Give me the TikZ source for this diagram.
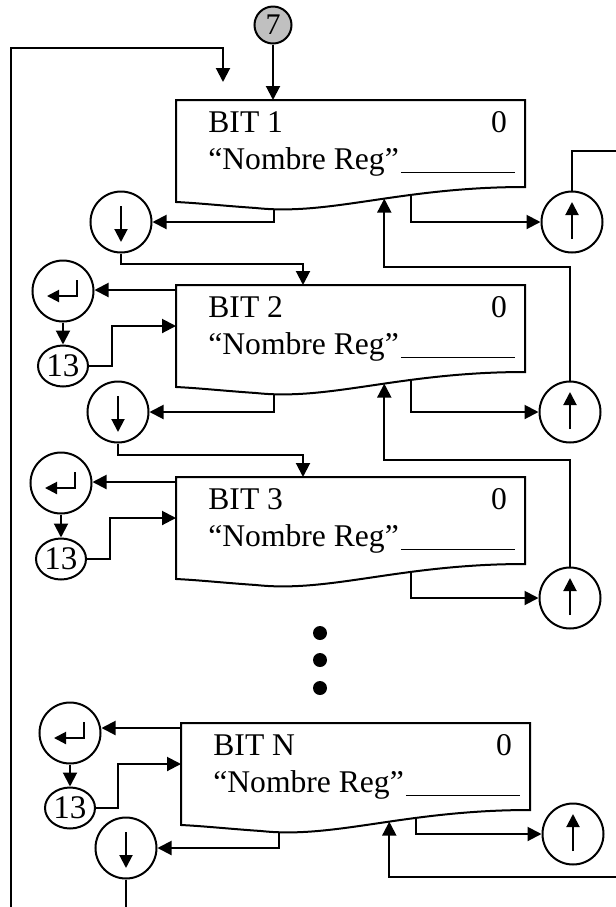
\documentclass[tikz,border=0pt]{standalone}
\usepackage{fontspec}
\setmainfont{Liberation Serif}
\usetikzlibrary{arrows.meta,calc,shapes.geometric}
\definecolor{nodegray}{RGB}{192,192,192}

% one register box: name, left, top, label
\newcommand{\bitbox}[4]{%
  \begin{scope}[shift={(#2,#3)}]
    \draw[ln] (0,0) coordinate (#1-nw) -- (349,0) -- (349,87)
      .. controls (224,87) and (154,116) .. (80,108)
      coordinate[pos=0.35] (#1-up) coordinate[pos=0.45] (#1-in) coordinate[pos=0.92] (#1-out)
      .. controls (50,106) and (22,103) .. (0,102) -- cycle;
    \coordinate (#1-top) at (127,0);
    \coordinate (#1-ent) at (0,5);
    \coordinate (#1-cin) at (0,41);
    \node[txt,anchor=base west] (#1-bit) at (32,32) {#4};
    \node[txt,anchor=base] (#1-val) at (323,32) {0};
    \node[txt,anchor=base west] (#1-reg) at (32,69) {“Nombre Reg”\hspace{1pt}\rule[-2pt]{57pt}{0.5pt}};
  \end{scope}}

\begin{document}
\begin{tikzpicture}[x=0.5pt,y=-0.5pt,
    ln/.style={line width=1pt},
    flow/.style={ln,-{Triangle[length=7pt,width=7pt]}},
    small/.style={ln,-{Triangle[length=6.5pt,width=6.5pt]}},
    txt/.style={inner sep=0pt,font=\fontsize{15.8pt}{18pt}\selectfont},
    kcirc/.style={ln,draw,circle,minimum size=30.5pt,inner sep=0pt},
    gocirc/.style={ln,draw,ellipse,minimum width=25pt,minimum height=20.5pt,inner sep=0pt,font=\fontsize{16.5pt}{18pt}\selectfont},
    linkcirc/.style={ln,draw,circle,fill=nodegray,minimum size=18.5pt,inner sep=0pt,font=\fontsize{15pt}{17pt}\selectfont}]
  \useasboundingbox (0,0) rectangle (616,907);

  \bitbox{b1}{176}{100}{BIT 1}
  \bitbox{b2}{176}{285}{BIT 2}
  \bitbox{b3}{176}{477}{BIT 3}
  \bitbox{bN}{181}{723}{BIT N}

  % entry from 7 and return loop
  \node[linkcirc] (n7) at (273,25) {7};
  \draw[flow] (n7) -- (n7 |- b1-nw);
  \coordinate (loopbot) at (11,907);
  \coordinate (looptop) at (11,48);
  \coordinate (loopin) at (223,82);
  \draw[flow] (loopbot) -- (looptop) -| (loopin);

  % keys
  \node[kcirc] (d1) at (121,222) {};
  \node[kcirc] (d2) at (118,412) {};
  \node[kcirc] (dN) at (126,848) {};
  \node[kcirc] (u1) at (572,222) {};
  \node[kcirc] (u2) at (570,412) {};
  \node[kcirc] (u3) at (570,598) {};
  \node[kcirc] (uN) at (573,834) {};
  \node[kcirc] (e2) at (63,291) {};
  \node[kcirc] (e3) at (61,483) {};
  \node[kcirc] (eN) at (70,733) {};
  \node[gocirc] (t2) at (63,366) {13};
  \node[gocirc] (t3) at (61,559) {13};
  \node[gocirc] (tN) at (70,808) {13};

  \foreach \c in {d1,d2,dN}
    \draw[small] ($(\c)+(0,-16)$) -- ($(\c)+(0,20)$);
  \foreach \c in {u1,u2,u3,uN}
    \draw[small] ($(\c)+(0,17)$) -- ($(\c)+(0,-20)$);
  \foreach \c in {e2,e3,eN}
    \draw[ln,-{Triangle[length=6pt,width=6pt]}] ($(\c)+(14,-11)$) -- ($(\c)+(14,5)$) -- ($(\c)+(-16,5)$);

  \foreach \y in {633,660,688}
    \fill (320,\y) circle[radius=7];

  % box 1
  \coordinate (u1x) at (616,151);
  \draw[flow] (b1-out) |- (d1);
  \draw[flow] (b1-up) |- (u1);
  \draw[ln] (u1) |- (u1x);
  \draw[flow] (d1.south) -- ++(0,10) -| (b2-top);
  \draw[flow] (u2.north) -- ++(0,-114) -| (b1-in);

  % box 2
  \draw[flow] (b2-ent) -- (b2-ent -| e2.east);
  \draw[flow] (e2.south) -- (e2.south |- t2.north);
  \draw[flow] (t2.east) -- ++(23,0) |- (b2-cin);
  \draw[flow] (b2-out) |- (d2);
  \draw[flow] (b2-up) |- (u2);
  \draw[flow] (d2.south) -- ++(0,11) -| (b3-top);
  \draw[flow] (u3.north) -- ++(0,-107) -| (b2-in);

  % box 3
  \draw[flow] (b3-ent) -- (b3-ent -| e3.east);
  \draw[flow] (e3.south) -- (e3.south |- t3.north);
  \draw[flow] (t3.east) -- ++(23,0) |- (b3-cin);
  \draw[flow] (b3-up) |- (u3);

  % box N
  \coordinate (bNx) at (616,877);
  \coordinate (dNx) at (126,907);
  \draw[flow] (bN-ent) -- (bN-ent -| eN.east);
  \draw[flow] (eN.south) -- (eN.south |- tN.north);
  \draw[flow] (tN.east) -- ++(22,0) |- (bN-cin);
  \draw[flow] (bN-out) |- (dN);
  \draw[flow] (bN-up) |- (uN);
  \draw[flow] (bNx) -| (bN-in);
  \draw[ln] (dN) -- (dNx);
\end{tikzpicture}
\end{document}
